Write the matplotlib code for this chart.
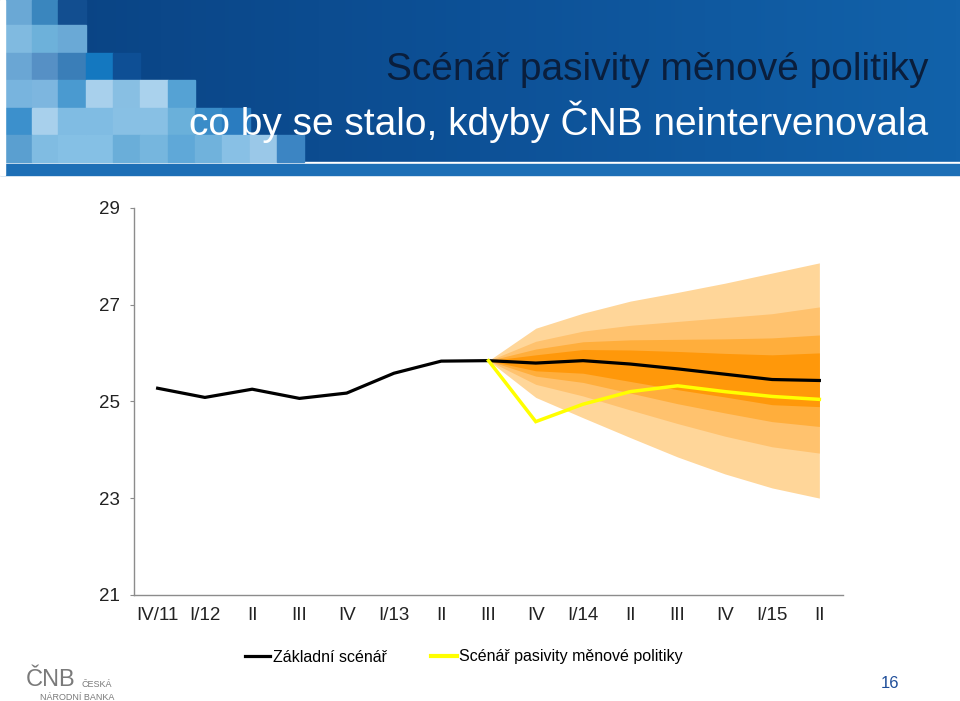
import matplotlib
matplotlib.use('Agg')
import matplotlib.pyplot as plt
import numpy as np
from matplotlib.patches import Rectangle
from matplotlib.lines import Line2D
from matplotlib.colors import LinearSegmentedColormap

# ---------------- data ----------------
categories = ['IV/11', 'I/12', 'II', 'III', 'IV', 'I/13', 'II', 'III', 'IV',
              'I/14', 'II', 'III', 'IV', 'I/15', 'II']
baseline = [25.27, 25.08, 25.25, 25.06, 25.17, 25.58, 25.83, 25.84, 25.79,
            25.84, 25.77, 25.67, 25.56, 25.45, 25.43]
passive_start = 7
passive = [25.84, 24.58, 24.94, 25.20, 25.32, 25.20, 25.10, 25.04]

fan_start = 7
band90_up = [25.84, 26.51, 26.82, 27.07, 27.25, 27.44, 27.65, 27.86]
band70_up = [25.84, 26.24, 26.45, 26.57, 26.65, 26.73, 26.81, 26.95]
band50_up = [25.84, 26.08, 26.23, 26.27, 26.28, 26.29, 26.31, 26.37]
band30_up = [25.84, 25.96, 26.07, 26.06, 26.03, 25.99, 25.96, 26.00]
band30_lo = [25.84, 25.63, 25.58, 25.41, 25.24, 25.09, 24.93, 24.89]
band50_lo = [25.84, 25.52, 25.39, 25.17, 24.95, 24.76, 24.58, 24.48]
band70_lo = [25.84, 25.35, 25.11, 24.82, 24.54, 24.28, 24.06, 23.93]
band90_lo = [25.84, 25.08, 24.66, 24.25, 23.85, 23.50, 23.21, 23.00]

yticks = [21, 23, 25, 27, 29]
legend_labels = ['Základní scénář', 'Scénář pasivity měnové politiky']

# ---------------- figure ----------------
W, H = 960, 701
fig = plt.figure(figsize=(9.6, 7.01), dpi=100)
fig.patch.set_facecolor('white')

bg = fig.add_axes([0, 0, 1, 1], zorder=0)
bg.set_xlim(0, W)
bg.set_ylim(H, 0)
bg.axis('off')

grad = np.linspace(0, 1, 256).reshape(1, -1)
cmap = LinearSegmentedColormap.from_list('b', ['#0A4282', '#0D5197', '#1262AA'])
bg.imshow(grad, extent=(0, W, 162, 0), cmap=cmap, aspect='auto', zorder=1)
bg.add_patch(Rectangle((0, 162), W, 2, color='white', zorder=2))
bg.add_patch(Rectangle((0, 164), W, 11, color='#1D6FB6', zorder=2))
bg.add_patch(Rectangle((0, 0), 5, 175, color='white', zorder=3))

rows = [0, 25, 53, 80, 108, 135, 162]
cols = [5, 32, 58, 86, 113, 140, 168, 195, 222, 250, 277, 304]
tiles = {
    0: ['#6AA8D5', '#3A86BE', '#124E90'],
    1: ['#80BAE0', '#6DB1DA', '#6AA9D6'],
    2: ['#6AA6D4', '#5690C5', '#3A7EB8', '#1478C0', '#0E4F95'],
    3: ['#78B4DE', '#7DB6DF', '#4A9AD0', '#A8D0EC', '#88BFE3', '#AAD2ED', '#55A2D4'],
    4: ['#3C90CC', '#A8D0EC', '#80BCE3', '#80BCE3', '#88C0E4', '#88C0E4', '#6AB0DA',
        '#3A8CC8', '#2A7CC0'],
    5: ['#5A9FD0', '#80BCE2', '#85C0E5', '#85C0E5', '#6AAED9', '#76B6DE', '#5FA8D8',
        '#70B2DC', '#88C0E5', '#9AC8E8', '#3C85C3'],
}
for r, clist in tiles.items():
    for c, col in enumerate(clist):
        bg.add_patch(Rectangle((cols[c], rows[r]), cols[c + 1] - cols[c],
                               rows[r + 1] - rows[r], color=col, zorder=2))

tfam = ['Liberation Sans', 'DejaVu Sans']
bg.text(928, 80, 'Scénář pasivity měnové politiky', ha='right', va='baseline',
        fontsize=28, color='#0A1E3C', family=tfam, zorder=5)
bg.text(928, 135, 'co by se stalo, kdyby ČNB neintervenovala', ha='right',
        va='baseline', fontsize=28, color='white', family=tfam, zorder=5)

# logo
bg.text(26, 686, 'ČNB', ha='left', va='baseline', fontsize=17, color='#7A7A7A',
        family=tfam, zorder=5)
bg.text(81, 687, 'ČESKÁ', ha='left', va='baseline', fontsize=6.5, color='#7A7A7A',
        family=tfam, zorder=5)
bg.text(40, 700, 'NÁRODNÍ BANKA', ha='left', va='baseline', fontsize=6.5,
        color='#7A7A7A', family=tfam, zorder=5)
bg.text(890, 688, '16', ha='center', va='baseline', fontsize=12, color='#1F4E9A',
        family=tfam, zorder=5)

# ---------------- chart ----------------
ax = fig.add_axes([134 / W, 1 - 594.9 / H, (843 - 134) / W, (594.9 - 207.7) / H],
                  zorder=2)
ax.patch.set_alpha(0)
x = np.arange(len(categories))
xf = x[fan_start:fan_start + len(band90_up)]

c_light = '#FFD699'
c_light2 = '#FFC26E'
c_med = '#FFAE3C'
c_dark = '#FF980A'
ax.fill_between(xf, band90_lo, band90_up, color=c_light, lw=0, zorder=1)
ax.fill_between(xf, band70_lo, band70_up, color=c_light2, lw=0, zorder=2)
ax.fill_between(xf, band50_lo, band50_up, color=c_med, lw=0, zorder=3)
ax.fill_between(xf, band30_lo, band30_up, color=c_dark, lw=0, zorder=4)

ax.plot(x, baseline, color='black', lw=2.3, zorder=6, solid_joinstyle='round')
xp = x[passive_start:passive_start + len(passive)]
ax.plot(xp, passive, color='#FFFF00', lw=2.5, zorder=7, solid_joinstyle='miter')

ax.set_xlim(-0.5, len(categories) - 0.5)
ax.set_ylim(21, 29)
ax.set_yticks(yticks)
ax.set_xticks(x)
ax.set_xticklabels(categories)
for s in ['top', 'right']:
    ax.spines[s].set_visible(False)
for s in ['left', 'bottom']:
    ax.spines[s].set_color('#8C8C8C')
    ax.spines[s].set_linewidth(1.0)
ax.tick_params(axis='y', length=3, color='#8C8C8C', labelsize=13.5, pad=7,
               labelcolor='#222222')
ax.tick_params(axis='x', length=0, labelsize=13.5, pad=9, labelcolor='#222222')
for lab in ax.get_xticklabels() + ax.get_yticklabels():
    lab.set_family(tfam)

handles = [Line2D([0], [0], color='black', lw=2.3),
           Line2D([0], [0], color='#FFFF00', lw=3)]
leg = fig.legend(handles, legend_labels, loc='center', ncol=2,
                 bbox_to_anchor=(464 / W, 1 - 657 / H), frameon=False,
                 prop={'family': tfam, 'size': 11.5},
                 handlelength=1.6, handletextpad=0.15, columnspacing=2.8)

fig.savefig('out.png', dpi=100)
